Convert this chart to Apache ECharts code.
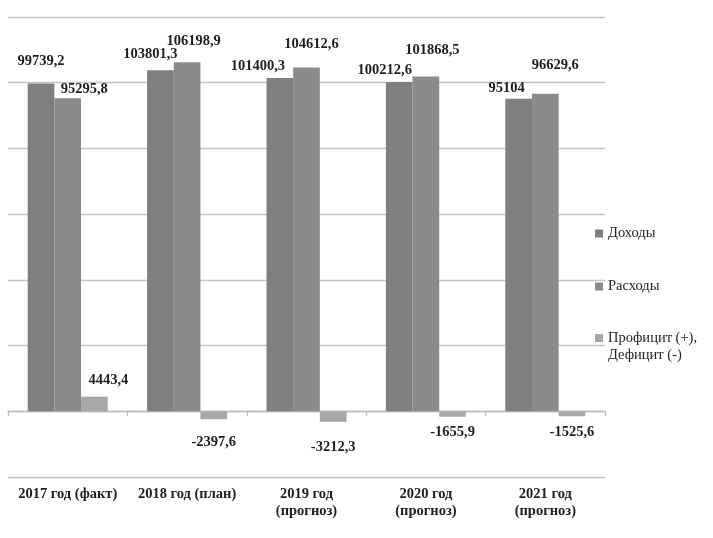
<!DOCTYPE html>
<html><head><meta charset="utf-8">
<script src="https://cdn.jsdelivr.net/npm/echarts@6/dist/echarts.min.js"></script>
<style>html,body{margin:0;padding:0;background:#fff}#c{width:713px;height:538px}</style>
</head><body><div id="c"></div>
<script>
const categories = ['2017 год (факт)', '2018 год (план)', '2019 год\n(прогноз)', '2020 год\n(прогноз)', '2021 год\n(прогноз)'];
const seriesNames = ['Доходы', 'Расходы', 'Профицит (+), Дефицит (-)'];
const incomeValues = [99739.2, 103801.3, 101400.3, 100212.6, 95104];
const expenseValues = [95295.8, 106198.9, 104612.6, 101868.5, 96629.6];
const balanceValues = [4443.4, -2397.6, -3212.3, -1655.9, -1525.6];
const yMin = -20000, yMax = 120000, yInterval = 20000;

// label nudges (px) to mimic the hand-placed labels of the original
const incomeOffsets = [[0, -11.5], [-10, -5.5], [-22, -1.5], [-14.5, -1.5], [-12, 0]];
const expenseOffsets = [[16.5, 1.5], [6.5, -10.5], [5, -12.5], [6.5, -15.5], [10, -18.5]];
const balanceOffsets = [[14, -5.5], [0, 11.5], [0, 14], [0, 4], [0, 4.5]];

const colors = ['#7f7f7f', '#8b8b8d', '#a7a7a7'];
const serif = 'Liberation Serif';
const fmt = v => String(v).replace('.', ',');

function items(values, offsets) {
  return values.map((v, i) => ({
    value: v,
    label: { position: v < 0 ? 'bottom' : 'top', distance: v < 0 ? 4 : 3, offset: offsets[i] }
  }));
}
const labelStyle = {
  show: true, fontFamily: serif, fontWeight: 'bold', fontSize: 14.5, color: '#1e1e1e',
  formatter: p => fmt(p.value)
};
// square icon drawn in the top part of a taller box so it lines up with the first text line
const topSquareIcon = 'path://M0,4L8,4L8,12L0,12Z M0,0 M8,34';

const chart = echarts.init(document.getElementById('c'));
chart.setOption({
  animation: false,
  color: colors,
  grid: { show: false, left: 8, right: 108, top: 17, bottom: 61, containLabel: false },
  legend: [
    { data: [seriesNames[0]], left: 590, top: 220, icon: 'rect', itemWidth: 8, itemHeight: 8 },
    { data: [seriesNames[1]], left: 590, top: 273, icon: 'rect', itemWidth: 8, itemHeight: 8 },
    { data: [seriesNames[2]], left: 590, top: 325, icon: topSquareIcon, itemWidth: 8, itemHeight: 34,
      formatter: () => 'Профицит (+),\nДефицит (-)' }
  ].map(l => Object.assign({
    orient: 'vertical', itemGap: 4,
    textStyle: { fontFamily: serif, fontSize: 14.5, color: '#262626', lineHeight: 17 }
  }, l)),
  xAxis: [
    {
      type: 'category', data: categories, position: 'bottom',
      axisLine: { onZero: true, lineStyle: { color: '#bdbdbd', width: 1.3 } },
      axisTick: { show: true, length: 5, lineStyle: { color: '#bdbdbd', width: 1.3 } },
      axisLabel: { show: false }, splitLine: { show: false, lineStyle: { color: '#ffffff', width: 0 } }
    },
    {
      type: 'category', data: categories, position: 'bottom',
      axisLine: { show: false, onZero: false, lineStyle: { color: '#ffffff', width: 0 } },
      axisTick: { show: false, lineStyle: { color: '#ffffff', width: 0 } },
      splitLine: { show: false, lineStyle: { color: '#ffffff', width: 0 } },
      axisLabel: { margin: 9, fontFamily: serif, fontWeight: 'bold', fontSize: 14.5, color: '#1e1e1e', lineHeight: 17, interval: 0 }
    }
  ],
  yAxis: {
    type: 'value', min: yMin, max: yMax, interval: yInterval,
    axisLabel: { show: false },
    axisLine: { show: false, lineStyle: { color: '#ffffff', width: 0 } },
    axisTick: { show: false, lineStyle: { color: '#ffffff', width: 0 } },
    splitLine: { lineStyle: { color: '#c4c4c4', width: 1.3 } }
  },
  series: [
    { name: seriesNames[0], type: 'bar', xAxisIndex: 0, barGap: '0%', barCategoryGap: '33%', data: items(incomeValues, incomeOffsets), label: labelStyle },
    { name: seriesNames[1], type: 'bar', xAxisIndex: 0, barGap: '0%', barCategoryGap: '33%', data: items(expenseValues, expenseOffsets), label: labelStyle },
    { name: seriesNames[2], type: 'bar', xAxisIndex: 0, barGap: '0%', barCategoryGap: '33%', data: items(balanceValues, balanceOffsets), label: labelStyle }
  ]
});
</script></body></html>
